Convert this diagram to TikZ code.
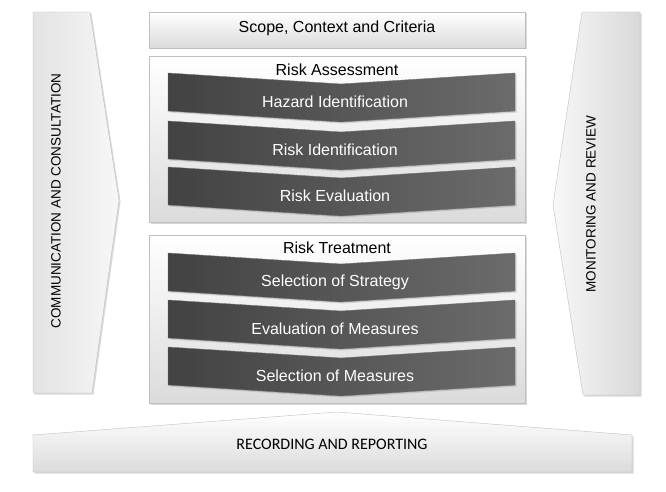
\documentclass[tikz,border=0pt]{standalone}
\usepackage{fontspec}
\setmainfont{Liberation Sans}
\newfontfamily\calfont{Carlito}
\usetikzlibrary{shadows}

\tikzset{
  softshadow/.style={drop shadow={opacity=0.3, shadow xshift=1.5pt, shadow yshift=-1.5pt}},
  lightbox/.style={draw=gray!50, top color=white, bottom color=gray!28, softshadow},
  sidearrow/.style={draw=gray!50, softshadow},
  darkbar/.style={draw=black!55, left color=black!74, right color=black!58, softshadow},
  boxtext/.style={font=\fontsize{16}{18}\selectfont},
  bartext/.style={text=white, font=\fontsize{16}{18}\selectfont},
  sidetext/.style={rotate=90, font=\fontsize{13.5}{16}\selectfont},
}

\begin{document}
\begin{tikzpicture}[x=1pt, y=-1pt]
  \useasboundingbox (0,0) rectangle (666,492);
  \fill[white] (0,0) rectangle (666,492);

  % side arrows
  \draw[sidearrow, left color=gray!22, right color=gray!6]
    (33,12) -- (90,12) -- (119,200) -- (92,393) -- (33,393) -- cycle;
  \node[sidetext] (comm) at (56,201) {COMMUNICATION AND CONSULTATION};
  \draw[sidearrow, left color=gray!6, right color=gray!30]
    (582,12) -- (640,12) -- (640,395) -- (583,395) -- (553,205) -- cycle;
  \node[sidetext] (monitor) at (591,204) {MONITORING AND REVIEW};

  % scope
  \draw[lightbox] (149,12) rectangle (525,48);
  \node[boxtext] (scope) at (337,28) {Scope, Context and Criteria};

  % risk assessment
  \draw[lightbox] (149,56) rectangle (525,222);
  \node[boxtext] (assess) at (337,70) {Risk Assessment};
  \foreach \t/\nm/\txt in {73/hazard/Hazard Identification,
                           121/ident/Risk Identification,
                           167/evalrisk/Risk Evaluation} {
    \draw[darkbar] (168,\t) -- (341,\t+11) -- (515,\t) -- (515,\t+38)
      -- (341,\t+49) -- (168,\t+38) -- cycle;
    \node[bartext] (\nm) at (335,\t+29) {\txt};
  }

  % risk treatment
  \draw[lightbox] (149,235) rectangle (525,403);
  \node[boxtext] (treat) at (337,248) {Risk Treatment};
  \foreach \t/\nm/\txt in {253/strategy/Selection of Strategy,
                           300/evalmeas/Evaluation of Measures,
                           347/selmeas/Selection of Measures} {
    \draw[darkbar] (168,\t) -- (341,\t+11) -- (515,\t) -- (515,\t+38)
      -- (341,\t+49) -- (168,\t+38) -- cycle;
    \node[bartext] (\nm) at (335,\t+29) {\txt};
  }

  % recording
  \draw[lightbox] (33,435) -- (337,412) -- (632,435) -- (632,472) -- (33,472) -- cycle;
  \node[font=\calfont\fontsize{16}{18}\selectfont] (record) at (332,444) {RECORDING AND REPORTING};
\end{tikzpicture}
\end{document}
